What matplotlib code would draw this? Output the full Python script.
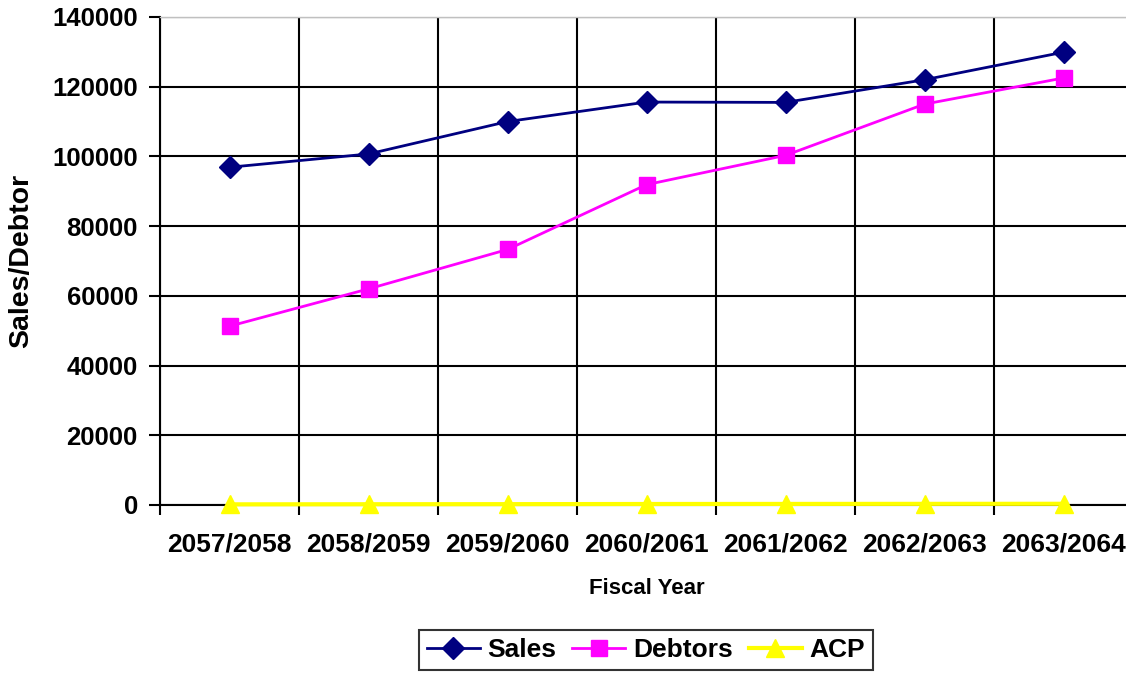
import matplotlib.pyplot as plt
from matplotlib.ticker import MultipleLocator, FixedLocator

plt.rcParams['font.family'] = ['Liberation Sans', 'DejaVu Sans']
plt.rcParams['font.weight'] = 'bold'

years = ['2057/2058', '2058/2059', '2059/2060', '2060/2061',
         '2061/2062', '2062/2063', '2063/2064']
sales = [96900, 100700, 110000, 115600, 115500, 122000, 129900]
debtors = [51300, 62000, 73300, 91900, 100300, 115000, 122500]
acp = [190, 220, 245, 290, 310, 330, 350]

fig = plt.figure(figsize=(11.26, 6.75), dpi=100)
# plot area runs a few pixels past the right edge of the figure
ax = fig.add_axes([160 / 1126, 1 - 505 / 675, (1133 - 160) / 1126, (505 - 17) / 675])

x = range(len(years))
ax.plot(x, sales, color='#000080', lw=2, marker='D', ms=11, label='Sales', zorder=4)
ax.plot(x, debtors, color='#FF00FF', lw=2, marker='s', ms=11, label='Debtors', zorder=4)
# ACP sits on the zero line, so don't let the axes clip its markers
ax.plot(x, acp, color='#FFFF00', lw=3, marker='^', ms=13, label='ACP', zorder=4,
        clip_on=False)

ax.set_xlim(-0.5, 6.5)
ax.set_ylim(0, 140000)
ax.yaxis.set_major_locator(MultipleLocator(20000))
ax.set_xticks(list(x))
ax.set_xticklabels(years)
ax.xaxis.set_minor_locator(FixedLocator([i - 0.5 for i in range(8)]))

ax.grid(axis='y', which='major', color='black', lw=1.5)
ax.grid(axis='x', which='minor', color='black', lw=1.5)
ax.set_axisbelow(True)

ax.tick_params(axis='x', which='major', length=0, pad=20, labelsize=19)
ax.tick_params(axis='x', which='minor', length=7, width=1.5, direction='out')
ax.tick_params(axis='y', length=8, width=1.5, direction='out', pad=8, labelsize=18.5)
for lab in ax.get_xticklabels() + ax.get_yticklabels():
    lab.set_fontweight('bold')

for side in ['left', 'bottom']:
    ax.spines[side].set_color('black')
    ax.spines[side].set_linewidth(1.5)
ax.spines['top'].set_color('#c0c0c0')
ax.spines['top'].set_linewidth(1)
ax.spines['right'].set_visible(False)

ax.set_ylabel('Sales/Debtor', fontsize=20.5, fontweight='bold', labelpad=13)
ax.set_xlabel('Fiscal Year', fontsize=16, fontweight='bold', labelpad=15)

leg = fig.legend(loc='center', bbox_to_anchor=(646 / 1126, 1 - 650 / 675), ncol=3,
                 frameon=True, fancybox=False, edgecolor='black',
                 handlelength=2.0, columnspacing=0.6, handletextpad=0.3,
                 borderpad=0.3, prop={'weight': 'bold', 'size': 19})
leg.get_frame().set_linewidth(1.5)

fig.savefig('out.png', dpi=100)
